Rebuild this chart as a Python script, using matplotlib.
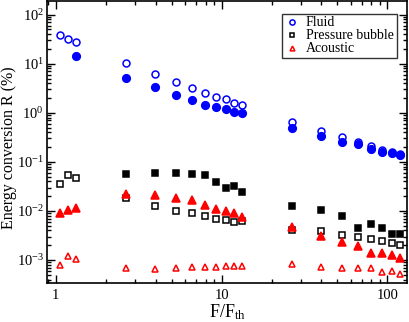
import matplotlib
matplotlib.use("Agg")
import matplotlib.pyplot as plt
from matplotlib.ticker import LogLocator, NullFormatter

plt.rcParams['font.family'] = ['Liberation Serif', 'DejaVu Serif']
plt.rcParams['mathtext.fontset'] = 'custom'
plt.rcParams['mathtext.rm'] = 'Liberation Serif'
plt.rcParams['mathtext.it'] = 'Liberation Serif:italic'

# Data
F_all = [1.06, 1.19, 1.325, 2.65, 3.975, 5.3, 6.625, 7.95, 9.275, 10.6,
         11.925, 13.25, 26.5, 39.75, 53.0, 66.25, 79.5, 92.75, 106.0, 119.25]
F_hi = F_all[3:]
F_fluid_filled = F_all[2:]

fluid_open = [37.8, 31.9, 27.2, 10.3, 6.05, 4.23, 3.19, 2.56, 2.12, 1.88,
              1.60, 1.41, 0.655, 0.423, 0.324, 0.252, 0.212, 0.178, 0.160, 0.145]
fluid_filled = [14.1, 5.1, 3.28, 2.36, 1.84, 1.44, 1.33, 1.19, 1.03, 0.968,
                0.50, 0.334, 0.26, 0.23, 0.184, 0.162, 0.151, 0.135]

bubble_open = [0.0361, 0.0543, 0.0465, 0.0184, 0.0125, 0.0100, 0.00897, 0.0078,
               0.00697, 0.00646, 0.00597, 0.00625, 0.00409, 0.00391, 0.00328,
               0.0029, 0.00264, 0.00241, 0.00219, 0.00205]
bubble_filled = [0.0561, 0.0597, 0.0589, 0.0561, 0.0543, 0.0391, 0.029, 0.0324,
                 0.0241, 0.0125, 0.0105, 0.0078, 0.00443, 0.00551, 0.00443,
                 0.00334, 0.00334]

acoustic_open = [0.00079, 0.00119, 0.00105, 0.000687, 0.000664, 0.000687, 0.00072,
                 0.00072, 0.000731, 0.000765, 0.000765, 0.000765, 0.000817,
                 0.000708, 0.000687, 0.000687, 0.000687, 0.000569, 0.000592, 0.000511]
acoustic_filled = [0.00923, 0.0105, 0.0114, 0.0222, 0.0215, 0.0187, 0.0165, 0.0135,
                   0.011, 0.0100, 0.00897, 0.00766, 0.00465, 0.00305, 0.00233,
                   0.00193, 0.00137, 0.00141, 0.00125, 0.0011]

fig = plt.figure(figsize=(4.09, 3.22), dpi=100)
ax = fig.add_axes([0.114, 0.121, 0.882, 0.876])

blue = '#0000ff'
red = '#ff0000'
ms = 5.0
mew = 1.1

ax.plot(F_all, fluid_open, 'o', ms=ms, mfc='none', mec=blue, mew=mew, ls='none', label='Fluid')
ax.plot(F_fluid_filled, fluid_filled, 'o', ms=ms + 0.5, mfc=blue, mec=blue, mew=mew, ls='none')
ax.plot(F_all, bubble_open, 's', ms=ms - 0.8, mfc='none', mec='black', mew=mew, ls='none', label='Pressure bubble')
ax.plot(F_hi, bubble_filled, 's', ms=ms - 0.3, mfc='black', mec='black', mew=mew, ls='none')
ax.plot(F_all, acoustic_open, '^', ms=ms - 0.4, mfc='none', mec=red, mew=mew, ls='none', label='Acoustic')
ax.plot(F_all, acoustic_filled, '^', ms=ms + 0.2, mfc=red, mec=red, mew=mew, ls='none')

ax.set_xscale('log')
ax.set_yscale('log')
ax.set_xlim(0.88, 132)
ax.set_ylim(3.4e-4, 190)

ax.set_xticks([1, 10, 100])
ax.set_xticklabels(['1', '10', '100'])
ax.xaxis.set_minor_locator(LogLocator(base=10, subs=range(2, 10), numticks=20))
ax.xaxis.set_minor_formatter(NullFormatter())
ax.yaxis.set_major_locator(LogLocator(base=10, numticks=12))
ax.yaxis.set_minor_locator(LogLocator(base=10, subs=range(2, 10), numticks=40))
ax.yaxis.set_minor_formatter(NullFormatter())

ax.tick_params(which='both', direction='in', top=True, right=True, width=1.0)
ax.tick_params(which='major', length=6, labelsize=10.5)
ax.tick_params(which='minor', length=3)
ax.tick_params(axis='y', pad=2)
ax.tick_params(axis='x', pad=4)
for s in ax.spines.values():
    s.set_linewidth(1.2)

ax.set_xlabel(r'F/F$_{\mathregular{th}}$', fontsize=13)
ax.xaxis.set_label_coords(0.5, -0.07)
ax.set_ylabel('Energy conversion R (%)', fontsize=11.5)
ax.yaxis.set_label_coords(-0.083, 0.48)

leg = ax.legend(loc='upper right', bbox_to_anchor=(0.978, 0.965), fontsize=10,
                frameon=True, fancybox=False, edgecolor='black', handlelength=1.0,
                handletextpad=0.5, borderpad=0.2, labelspacing=0.0, markerscale=0.75,
                borderaxespad=0.2)
leg.get_frame().set_linewidth(1.0)

fig.savefig('out.png', dpi=100)
